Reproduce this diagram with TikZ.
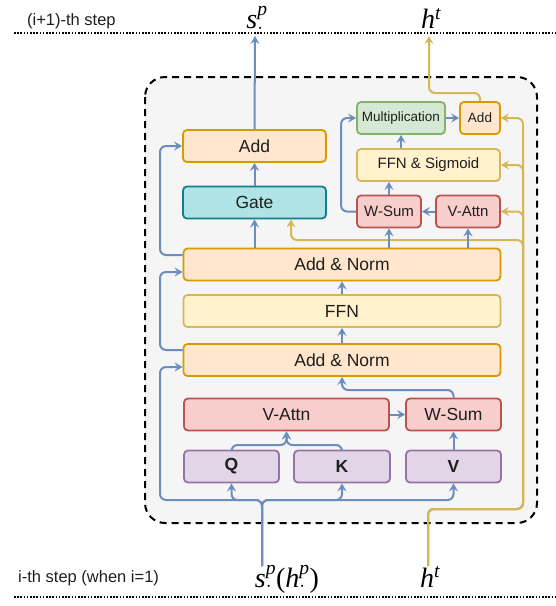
\documentclass[tikz,border=0pt]{standalone}
\usepackage{amsmath}
\usepackage{fontspec}
\setmainfont{Liberation Sans}
\newfontfamily\tmsfont{Liberation Serif}
\usetikzlibrary{arrows.meta}

\definecolor{flowblue}{HTML}{6C8EBF}
\definecolor{flowyellow}{HTML}{D6B656}
\definecolor{addfill}{HTML}{FFE6CC}\definecolor{adddraw}{HTML}{D79B00}
\definecolor{gatefill}{HTML}{B0E3E6}\definecolor{gatedraw}{HTML}{0E8088}
\definecolor{ffnfill}{HTML}{FFF2CC}\definecolor{ffndraw}{HTML}{D6B656}
\definecolor{attnfill}{HTML}{F8CECC}\definecolor{attndraw}{HTML}{B85450}
\definecolor{qkvfill}{HTML}{E1D5E7}\definecolor{qkvdraw}{HTML}{9673A6}
\definecolor{mulfill}{HTML}{D5E8D4}\definecolor{muldraw}{HTML}{82B366}
\definecolor{layerfill}{HTML}{F5F5F5}
\definecolor{labelgray}{HTML}{1F1F1F}

\newcommand{\varsym}[2]{{\tmsfont\itshape #1}$^{\text{\tmsfont\itshape #2}}_{\cdot}$}

\begin{document}
\begin{tikzpicture}[x=1pt,y=-1pt,
  box/.style={draw,rounded corners=4pt,line width=1.8pt,minimum height=32pt,inner sep=0pt,
    text=labelgray,font=\fontsize{17.5}{20}\selectfont},
  smallbox/.style={box,font=\fontsize{15}{18}\selectfont},
  tinybox/.style={box,font=\fontsize{13.5}{16}\selectfont},
  addbox/.style={fill=addfill,draw=adddraw},
  gatebox/.style={fill=gatefill,draw=gatedraw},
  ffnbox/.style={fill=ffnfill,draw=ffndraw},
  attnbox/.style={fill=attnfill,draw=attndraw},
  qkvbox/.style={fill=qkvfill,draw=qkvdraw},
  mulbox/.style={fill=mulfill,draw=muldraw},
  flow/.style={draw=flowblue,line width=2pt,rounded corners=6pt,
    -{Stealth[length=8pt,width=9pt,inset=3pt]}},
  yflow/.style={flow,draw=flowyellow},
  stepline/.style={line width=1.4pt,dash pattern=on 1.5pt off 1.7pt},
  steplabel/.style={anchor=west,inner sep=0pt,text=labelgray,font=\fontsize{16.5}{19}\selectfont},
  symlabel/.style={anchor=base,inner sep=0pt,font=\fontsize{28}{32}\selectfont}]
\useasboundingbox (0,0) rectangle (556,606);

\draw[line width=2pt,dash pattern=on 7pt off 5pt,fill=layerfill,rounded corners=20pt]
  (145,77) rectangle (537,523);

\draw[stepline] (14,33) -- (556,33);
\draw[stepline] (14,597) -- (556,597);
\node[steplabel] (nextstep) at (27,21) {(i+1)-th step};
\node[steplabel] (thisstep) at (18,578) {i-th step (when i=1)};
\node[symlabel] (stop) at (257,28.5) {\varsym{s}{p}};
\node[symlabel] (htop) at (431,28.5) {{\tmsfont\itshape h}$^{\text{\tmsfont\itshape t}}$};
\node[symlabel] (sbot) at (287,587) {\varsym{s}{p}{\tmsfont(}\varsym{h}{p}{\tmsfont)}};
\node[symlabel] (hbot) at (430,587) {{\tmsfont\itshape h}$^{\text{\tmsfont\itshape t}}$};

\node[box,addbox,minimum width=143pt] (addtop) at (254.5,146) {Add};
\node[box,gatebox,minimum width=143pt] (gate) at (254.5,202.5) {Gate};
\node[box,addbox,minimum width=317pt] (addnorm2) at (342,264.5) {Add \& Norm};
\node[box,ffnbox,minimum width=317pt] (ffn) at (342,311) {FFN};
\node[box,addbox,minimum width=317pt] (addnorm1) at (342,360) {Add \& Norm};
\node[box,attnbox,minimum width=205pt] (vattn) at (286.5,414.5) {V-Attn};
\node[box,attnbox,minimum width=95pt] (wsum) at (453.5,414.5) {W-Sum};
\node[box,qkvbox,minimum width=95pt] (q) at (231.5,466.5) {\textbf{Q}};
\node[box,qkvbox,minimum width=96pt] (k) at (342,466.5) {\textbf{K}};
\node[box,qkvbox,minimum width=95pt] (v) at (453.5,466.5) {\textbf{V}};

\node[tinybox,mulbox,minimum width=88pt] (mult) at (401,118) {Multiplication};
\node[tinybox,addbox,minimum width=40pt] (addsm) at (480,118) {Add};
\node[smallbox,ffnbox,minimum width=143pt] (ffnsig) at (428.5,165) {FFN \& Sigmoid};
\node[smallbox,attnbox,minimum width=64pt] (wsum2) at (389,211.5) {W-Sum};
\node[smallbox,attnbox,minimum width=64pt] (vattn2) at (468,211.5) {V-Attn};

\coordinate (sin) at (262,566);
\coordinate (hin) at (428,566);
\coordinate (souttip) at (255,36);
\coordinate (houttip) at (429,36);
\coordinate (rail) at (523,509);
\coordinate (gtap) at (291,240);

\draw[yflow] (hin) |- (rail) |- (gtap) -- (gtap |- gate.south);
\draw[yflow] (hin) |- (rail) |- (vattn2.east);
\draw[yflow] (hin) |- (rail) |- (ffnsig.east);
\draw[yflow] (hin) |- (rail) |- (addsm.east);
\draw[yflow] (addsm.north) -- (addsm.north |- 0,93) -| (houttip);

\draw[flow] (sin) -- (sin |- 0,500) -- (160,500) |- (addnorm1.west |- 0,367);
\draw[flow] (sin) -- (sin |- 0,500) -| (q.south);
\draw[flow] (sin) -- (sin |- 0,500) -| (k.south);
\draw[flow] (sin) -- (sin |- 0,500) -| (v.south);
\draw[flow] (q.north) -- (q.north |- 0,445) -| (vattn.south);
\draw[flow] (k.north) -- (k.north |- 0,445) -| (vattn.south);
\path[flow] (vattn) edge (wsum);
\path[flow] (v) edge (wsum);
\draw[flow] (wsum.north) -- (wsum.north |- 0,390) -| (addnorm1.south);
\path[flow] (addnorm1) edge (ffn);
\path[flow] (ffn) edge (addnorm2);
\draw[flow] (addnorm1.west |- 0,350) -- (160,350) |- (addnorm2.west |- 0,272);
\draw[flow] (addnorm2.west |- 0,255) -- (160,255) |- (addtop.west);
\draw[flow] (addnorm2.north -| gate.south) -- (gate.south);
\draw[flow] (addnorm2.north -| wsum2.south) -- (wsum2.south);
\draw[flow] (addnorm2.north -| vattn2.south) -- (vattn2.south);
\path[flow] (gate) edge (addtop);
\draw[flow] (addtop.north) -- (souttip);
\path[flow] (vattn2) edge (wsum2);
\draw[flow] (wsum2.north) -- (wsum2.north |- ffnsig.south);
\draw[flow] (ffnsig.north -| mult.south) -- (mult.south);
\draw[flow] (wsum2.west) -- ++(-15,0) |- (mult.west);
\path[flow] (mult) edge (addsm);
\end{tikzpicture}
\end{document}
